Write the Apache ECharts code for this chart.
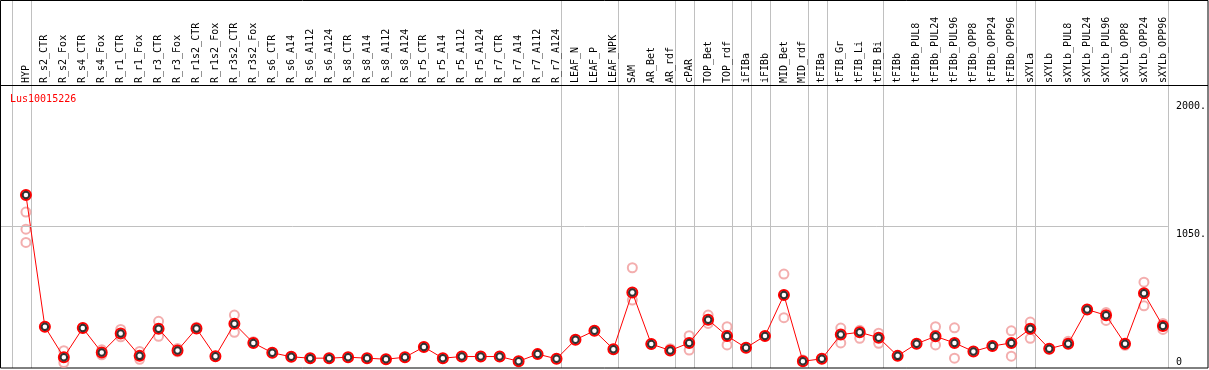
<!DOCTYPE html>
<html>
<head>
<meta charset="utf-8">
<script src="https://cdn.jsdelivr.net/npm/echarts@6/dist/echarts.min.js"></script>
<style>
html,body{margin:0;padding:0;background:#fff;}
#chart{width:1209px;height:370px;}
</style>
</head>
<body>
<div id="chart"></div>
<script>
var categories = ['HYP','R_s2_CTR','R_s2_Fox','R_s4_CTR','R_s4_Fox','R_r1_CTR','R_r1_Fox','R_r3_CTR','R_r3_Fox',
	'R_r1s2_CTR','R_r1s2_Fox','R_r3s2_CTR','R_r3s2_Fox','R_s6_CTR','R_s6_A14','R_s6_A112','R_s6_A124',
	'R_s8_CTR','R_s8_A14','R_s8_A112','R_s8_A124','R_r5_CTR','R_r5_A14','R_r5_A112','R_r5_A124',
	'R_r7_CTR','R_r7_A14','R_r7_A112','R_r7_A124','LEAF_N','LEAF_P','LEAF_NPK','SAM','AR_Bet','AR_rdf',
	'cPAR','TOP_Bet','TOP_rdf','iFIBa','iFIBb','MID_Bet','MID_rdf','tFIBa','tFIB_Gr','tFIB_Li','tFIB_Bi',
	'tFIBb','tFIBb_PUL8','tFIBb_PUL24','tFIBb_PUL96','tFIBb_OPP8','tFIBb_OPP24','tFIBb_OPP96',
	'sXYLa','sXYLb','sXYLb_PUL8','sXYLb_PUL24','sXYLb_PUL96','sXYLb_OPP8','sXYLb_OPP24','sXYLb_OPP96'];

// mean expression per sample
var means = [1283,306,80,296,115,256,90,291,130,
	293,88,328,186,113,83,73,73,
	80,73,65,80,156,73,85,85,
	85,50,103,68,210,276,140,561,178,130,
	186,358,238,150,238,541,50,68,248,265,225,
	90,180,235,186,123,163,186,
	291,143,180,434,391,180,554,311];

// single replicates
var replicates = [[1157,1030,932],[306],[128,40],[296],[135,98],[286,231],[123,65],[346,235],[145,120],
	[303],[88],[393,265],[195],[113],[83],[73],[73],
	[80],[73],[65],[80],[156],[73],[85],[85],
	[85],[50],[103],[68],[210],[276],[140],[744,504],[178],[143],
	[240,133],[393,331],[306,171],[150],[238],[697,373],[60],[68],[296,186],[280,220],[258,183],
	[90],[180],[306,171],[298,73],[123],[163],[276,88],
	[341,220],[143],[198],[434],[411,353],[168],[637,461],[331,286]];

// number of samples in each tissue group (separators between them)
var groups = [1,28,3,3,1,2,1,1,2,1,3,7,1,7];

var yLabelsTop = [1050,2000];
var yLabelsBottom = [0];
var geneName = 'Lus10015226';

var font = 'DejaVu Sans Mono';
var chart = echarts.init(document.getElementById('chart'));

var lineData = means.map(function(v,i){ return [i,v]; });
var repData = [];
replicates.forEach(function(arr,i){
	arr.forEach(function(v){ repData.push([i,v]); });
});
var idx = categories.map(function(c,i){ return i; });

var option = {
	animation: false,
	title: {
		text: geneName,
		left: 5, top: 89,
		textStyle: {color:'#ff0000', fontSize:10, fontWeight:'normal', fontFamily:font}
	},
	grid: {left:1, right:38, top:85, bottom:2},
	xAxis: [{
		type: 'value',
		position: 'top',
		min: -1.316, max: 60.263,
		axisLine: {show:false},
		axisTick: {show:false},
		splitLine: {show:false},
		axisLabel: {
			customValues: idx,
			rotate: 90,
			margin: 2,
			color: '#000',
			fontSize: 10,
			fontFamily: font,
			formatter: function(v){ return categories[v]; }
		}
	}],
	yAxis: [{
		type: 'value', position: 'right', min: 0, max: 2100,
		axisLine: {show:false}, axisTick: {show:false}, splitLine: {show:false},
		axisLabel: {customValues: yLabelsTop, verticalAlign:'top', margin:8, padding:[3,0,0,0], color:'#000',
			fontSize:10, fontFamily:font, formatter:function(v){ return v + '.'; }}
	},{
		type: 'value', position: 'right', min: 0, max: 2100,
		axisLine: {show:false}, axisTick: {show:false}, splitLine: {show:false},
		axisLabel: {customValues: yLabelsBottom, verticalAlign:'bottom', margin:8, padding:[0,0,1,0],
			color:'#000', fontSize:10, fontFamily:font}
	}],
	series: [{
		type: 'scatter',
		data: repData,
		symbol: 'emptyCircle',
		symbolSize: 9,
		itemStyle: {color:'#f09a9a', borderWidth:1.2},
		z: 2
	},{
		type: 'line',
		data: lineData,
		symbol: 'emptyCircle',
		symbolSize: 10,
		lineStyle: {color:'#ff0000', width:1},
		itemStyle: {color:'#ff0000', borderWidth:1.6},
		markLine: {
			silent: true, symbol: 'none', label: {show:false},
			lineStyle: {color:'#c0c0c0', type:'solid', width:1},
			data: [{yAxis:1050}]
		},
		z: 3
	},{
		type: 'scatter',
		data: lineData,
		symbol: 'emptyCircle',
		symbolSize: 6.5,
		itemStyle: {color:'#000', borderWidth:0.8},
		z: 4
	}]
};
chart.setOption(option);

// frame and group separators
var graphics = [];
var ends = [-1];
var acc = 0;
groups.forEach(function(n){ acc += n; ends.push(acc - 1); });
ends.forEach(function(e){
	var x = Math.round(chart.convertToPixel({xAxisIndex:0}, e + 0.25)) + 0.5;
	graphics.push({type:'line', z:-1, shape:{x1:x, y1:0, x2:x, y2:368},
		style:{stroke:'#c0c0c0', lineWidth:1}});
});
graphics.push({type:'rect', shape:{x:0.5, y:0.5, width:1207.5, height:367.5},
	style:{stroke:'#000', fill:'none', lineWidth:1}});
graphics.push({type:'line', shape:{x1:0, y1:85.5, x2:1208, y2:85.5},
	style:{stroke:'#000', lineWidth:1}});
chart.setOption({graphic: graphics});
</script>
</body>
</html>
